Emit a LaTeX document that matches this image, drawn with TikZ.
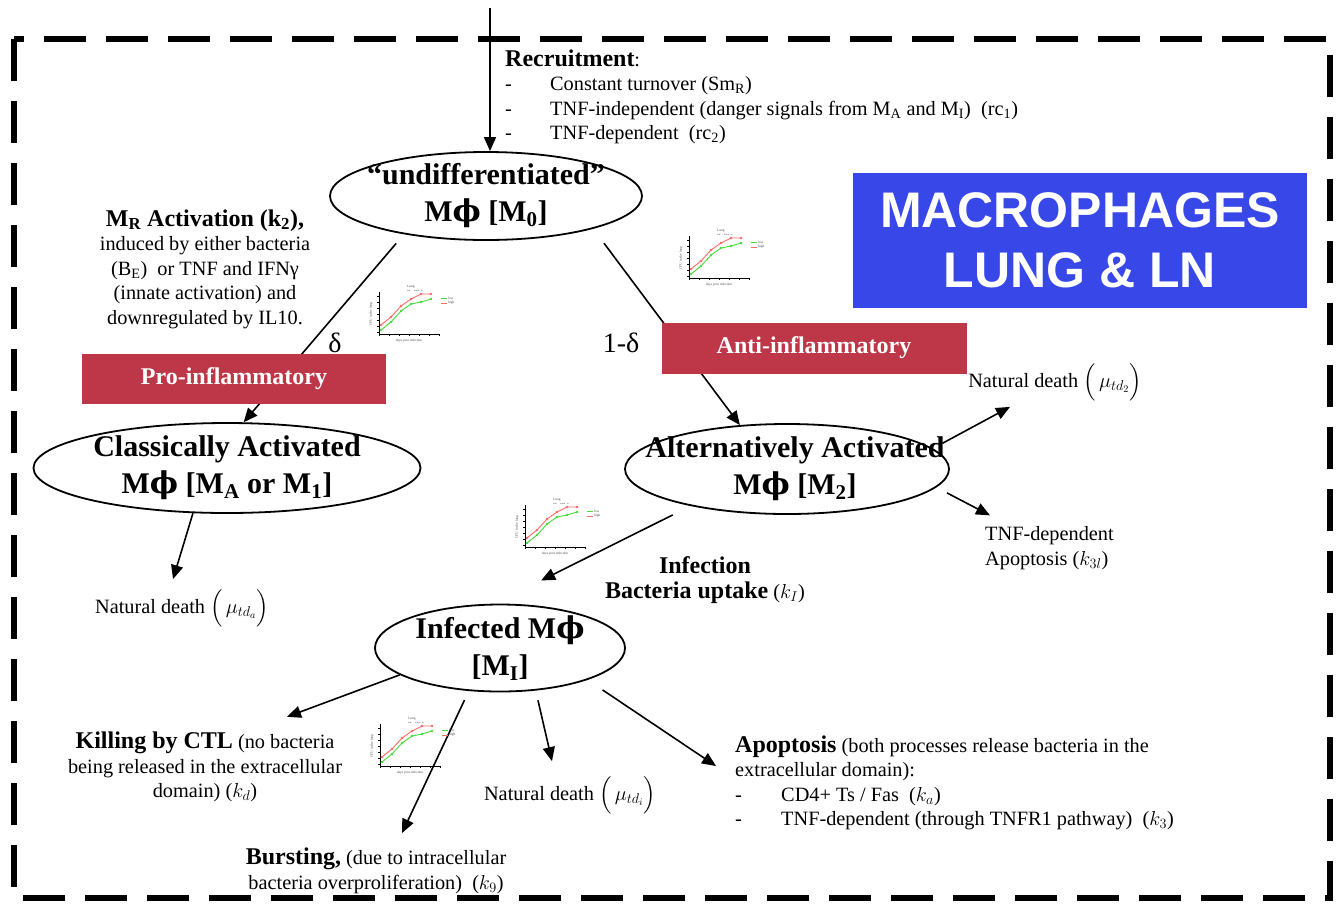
\RequirePackage{fix-cm}
\documentclass[tikz,border=0pt]{standalone}
\usepackage{amsmath,bm}
\usepackage{fontspec}
\setmainfont{Liberation Serif}
\setsansfont{Liberation Sans}
\newfontfamily\phifont{DejaVu Serif}
\usetikzlibrary{positioning, shapes.geometric, arrows.meta}

\definecolor{proinf}{RGB}{190,55,72}
\definecolor{titleblue}{RGB}{56,72,232}
\definecolor{curvegreen}{RGB}{70,220,60}
\definecolor{curvered}{RGB}{255,105,105}

\newcommand{\hdr}[1]{{\fontsize{24}{25}\selectfont\bfseries #1}}
\newcommand{\Mphi}{M{\phifont ϕ}}

% small CFU plot (name, left, top)
\newcommand{\lungplot}[3]{%
  \begin{scope}[shift={(#2,#3)}]
    \node[plottext] (#1-title) at (44,5) {Lung};
    \draw[line width=0.4pt] (12,10) -- (12,52) -- (72,52);
    \foreach \t in {14,20,...,50} \draw[line width=0.3pt] (10,\t) -- (12,\t);
    \foreach \t in {12,22,...,72} \draw[line width=0.3pt] (\t,52) -- (\t,54);
    \node[plottext, rotate=90] (#1-ylab) at (4,32) {CFU in the lung};
    \node[plottext] (#1-xlab) at (42,59) {days post infection};
    \draw[curvered, line width=0.9pt, mark=*, mark size=0.8pt]
      plot coordinates {(14,43) (24,35) (34,24) (44,17) (54,12) (64,12)};
    \draw[curvegreen, line width=0.9pt, mark=*, mark size=0.8pt]
      plot coordinates {(14,48) (24,40) (34,29) (44,22) (54,20) (64,17)};
    \node[plottext] (#1-sig) at (48,9) {**\quad ***\ \ *};
    \draw[curvegreen, line width=0.9pt] (74,16) -- (80,16);
    \draw[curvered, line width=0.9pt] (74,21) -- (80,21);
    \node[plottext, anchor=west] (#1-low) at (81,16) {low};
    \node[plottext, anchor=west] (#1-high) at (81,21) {high};
  \end{scope}}

\begin{document}
\begin{tikzpicture}[x=1pt, y=-1pt,
    frame/.style={line width=6pt, dash pattern=on 42pt off 20pt},
    cell/.style={ellipse, draw, line width=1.8pt, inner sep=0pt},
    celltext/.style={font=\fontsize{30}{37}\selectfont\bfseries, align=center, inner sep=0pt},
    note/.style={font=\fontsize{20.3}{24.5}\selectfont, align=center, inner sep=0pt},
    flow/.style={line width=1.6pt, -{Triangle[length=14pt,width=12pt]}},
    tag/.style={fill=proinf, text=white, font=\fontsize{24}{26}\selectfont\bfseries,
      minimum width=304pt, minimum height=50pt, inner sep=0pt},
    banner/.style={fill=titleblue, text=white, font=\sffamily\fontsize{50}{60}\selectfont\bfseries,
      align=center, minimum width=454pt, minimum height=135pt, inner sep=0pt},
    greek/.style={font=\fontsize{28}{30}\selectfont, inner sep=0pt},
    plottext/.style={font=\fontsize{3.5}{4}\selectfont, inner sep=0pt, text=black!70}]

  \useasboundingbox (0,0) rectangle (1340,906);

  % dashed frame
  \draw[frame] (14,39) rectangle (1330,898);

  % cells
  \node[cell, minimum width=312pt, minimum height=88pt] (undiff) at (486,196) {};
  \node[celltext] (undiffT) at (undiff) {“undifferentiated”\\\Mphi{} [M\textsubscript{0}]};
  \node[cell, minimum width=387pt, minimum height=90pt] (classic) at (227,468) {};
  \node[celltext] (classicT) at (classic) {Classically Activated\\\Mphi{} [M\textsubscript{A} or M\textsubscript{1}]};
  \node[cell, minimum width=324pt, minimum height=90pt] (alt) at (787,469) {};
  \node[celltext, xshift=8pt] (altT) at (alt) {Alternatively Activated\\\Mphi{} [M\textsubscript{2}]};
  \node[cell, minimum width=250pt, minimum height=87pt] (inf) at (500,648) {};
  \node[celltext] (infT) at (inf) {Infected \Mphi\\{[}M\textsubscript{I}{]}};

  % texts
  \node[note, anchor=north west, align=left] (recr) at (505,49) {%
    \begin{tabular}{@{}p{45pt}@{}l@{}}
      \multicolumn{2}{@{}l@{}}{\hdr{Recruitment}:}\\
      - & Constant turnover (Sm\textsubscript{R})\\
      - & TNF-independent (danger signals from M\textsubscript{A} and M\textsubscript{I})\ \ (rc\textsubscript{1})\\
      - & TNF-dependent\ \ (rc\textsubscript{2})
    \end{tabular}};
  \node[note] (actk) at (205,269) {\hdr{M\textsubscript{R} Activation (k\textsubscript{2}),}\\
    induced by either bacteria\\(B\textsubscript{E})\ \ or TNF and IFNγ\\
    (innate activation) and\\downregulated by IL10.};
  \node[greek] (delta) at (335,343) {δ};
  \node[greek] (oneminus) at (621,343) {1-δ};
  \node[note] (natM2) at (1055,382) {Natural death $\Big(\,\mu_{td_{2}}\Big)$};
  \node[note, anchor=west, align=left] (apoM2) at (985,548) {TNF-dependent\\Apoptosis ($k_{3l}$)};
  \node[note] (natA) at (182,608) {Natural death $\Big(\,\mu_{td_{a}}\Big)$};
  \node[note] (infect) at (705,580) {\hdr{Infection}\\\hdr{Bacteria uptake} ($k_I$)};
  \node[note] (kill) at (205,767) {\hdr{Killing by CTL} (no bacteria\\being released in the extracellular\\domain) ($k_d$)};
  \node[note] (natI) at (570,795) {Natural death $\Big(\,\mu_{td_{i}}\Big)$};
  \node[note, anchor=north west, align=left] (apo) at (735,735) {%
    \begin{tabular}{@{}p{46pt}@{}l@{}}
      \multicolumn{2}{@{}l@{}}{\hdr{Apoptosis} (both processes release bacteria in the}\\
      \multicolumn{2}{@{}l@{}}{extracellular domain):}\\
      - & CD4+ Ts / Fas\ \ ($k_a$)\\
      - & TNF-dependent (through TNFR1 pathway)\ \ ($k_3$)
    \end{tabular}};
  \node[note] (burst) at (376,871) {\hdr{Bursting,} (due to intracellular\\bacteria overproliferation)\ \ ($k_9$)};

  % connectors
  \coordinate (src) at (490,8);
  \draw[flow] (src) -- (src |- undiff.north);
  \draw[flow, shorten <=12pt] (undiff.205) -- (classic.70);
  \draw[flow, shorten <=18pt] (undiff.343) -- (alt.137);
  \draw[flow] (classic.233) -- ([xshift=-9pt,yshift=10pt]natA.north);
  \draw[flow, shorten <=11pt] (alt.8) -- ([xshift=-45pt,yshift=-6pt]natM2.south);
  \draw[flow, shorten <=12pt] (alt.353) -- ([xshift=5pt,yshift=11pt]apoM2.north west);
  \draw[flow, shorten <=20pt, shorten >=52pt] (alt.201) -- (inf.97);
  \draw[flow] (inf.195) -- ([xshift=82pt,yshift=15pt]kill.north);
  \draw[flow, shorten <=10pt] (inf.234) -- ([xshift=26pt,yshift=15pt]burst.north);
  \draw[flow, shorten <=10pt] (inf.310) -- ([xshift=-18pt,yshift=15pt]natI.north);
  \draw[flow, shorten <=18pt] (inf.340) -- ([xshift=-19pt,yshift=-31pt]apo.north west);

  % labels on top of the lines
  \node[tag] (pro) at (234,379) {Pro-inflammatory};
  \node[tag, minimum width=305pt, minimum height=51pt] (anti) at (814,348) {Anti-inflammatory};
  \node[banner] (title) at (1080,240) {MACROPHAGES\\LUNG \& LN};

  % CFU plots
  \lungplot{pA}{367}{282}
  \lungplot{pB}{677}{226}
  \lungplot{pC}{513}{495}
  \lungplot{pD}{368}{714}
\end{tikzpicture}
\end{document}
